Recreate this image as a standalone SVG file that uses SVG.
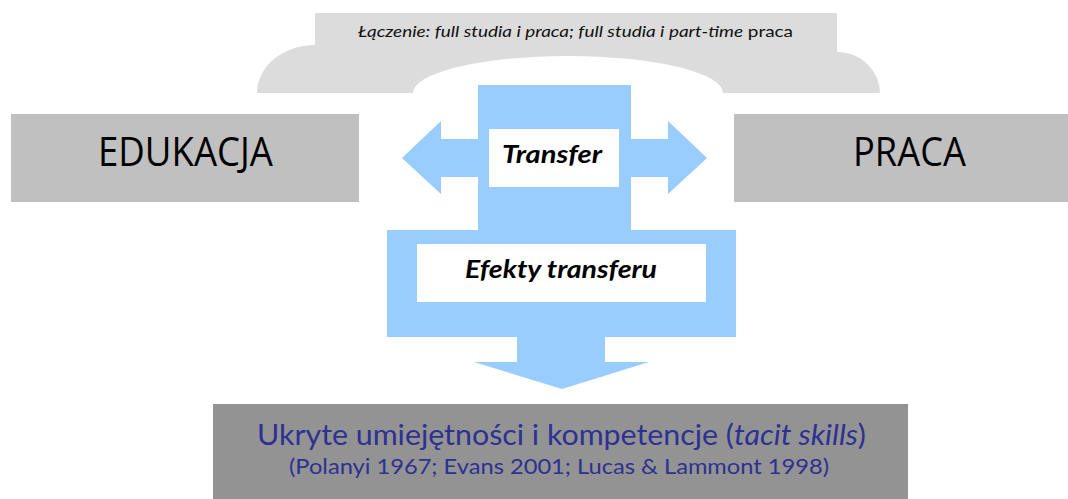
<svg xmlns="http://www.w3.org/2000/svg" width="1068" height="499" viewBox="0 0 1068 499">
<style>
.blue{fill:#99CCFF;}
.white{fill:#FFFFFF;}
.gbox{fill:#C0C0C0;}
.big{font-family:"Open Sans","Liberation Sans",sans-serif;font-size:41px;fill:#000;}
.bi{font-family:Lato,"Open Sans","Liberation Sans",sans-serif;font-weight:bold;font-style:italic;font-size:25px;fill:#000;}
.top{font-family:Lato,"Open Sans","Liberation Sans",sans-serif;font-size:16px;fill:#111;}
.blu{font-family:Lato,"Open Sans","Liberation Sans",sans-serif;fill:#2E3192;}
</style>
<rect width="1068" height="499" fill="#FFFFFF"/>
<g id="laczenie">
<path d="M315,13 H837 V52 A43,41 0 0 1 880,93 H723 A155,37 0 0 0 413,93 H257 A58,48 0 0 1 315,45 Z" fill="#DCDCDC"/>
<text class="top" x="358" y="37" textLength="435" lengthAdjust="spacingAndGlyphs"><tspan font-style="italic">Łączenie: full studia i praca; full studia i part-time</tspan> praca</text>
</g>
<g id="connectors">
<rect class="blue" x="478" y="85" width="153" height="150"/>
<polygon class="blue" points="478,139 441,139 441,121 402,158 441,194 441,177 478,177"/>
<polygon class="blue" points="631,139 668,139 668,121 707,158 668,194 668,177 631,177"/>
<rect class="blue" x="387" y="230" width="349" height="107"/>
<polygon class="blue" points="517,336 605,336 605,362 649,362 562,389 474,362 517,362"/>
</g>
<g id="transfer">
<rect class="white" x="489" y="129" width="130" height="58"/>
<text class="bi" x="502" y="163" textLength="100" lengthAdjust="spacingAndGlyphs">Transfer</text>
</g>
<g id="efekty">
<rect class="white" x="417" y="244" width="289" height="58"/>
<text class="bi" x="465" y="278" textLength="192" lengthAdjust="spacingAndGlyphs">Efekty transferu</text>
</g>
<g id="edukacja">
<rect class="gbox" x="11" y="114" width="348" height="88"/>
<text class="big" x="98" y="166" textLength="175" lengthAdjust="spacingAndGlyphs">EDUKACJA</text>
</g>
<g id="praca">
<rect class="gbox" x="734" y="114" width="334" height="88"/>
<text class="big" x="853" y="166" textLength="113" lengthAdjust="spacingAndGlyphs">PRACA</text>
</g>
<g id="tacit">
<rect x="213" y="404" width="695" height="95" fill="#939393"/>
<text class="blu" x="257" y="445" font-size="28" textLength="609" lengthAdjust="spacingAndGlyphs">Ukryte umiejętności i kompetencje (<tspan font-style="italic">tacit skills</tspan>)</text>
<text class="blu" x="289" y="474" font-size="21" textLength="540" lengthAdjust="spacingAndGlyphs">(Polanyi 1967; Evans 2001; Lucas &amp; Lammont 1998)</text>
</g>
</svg>
